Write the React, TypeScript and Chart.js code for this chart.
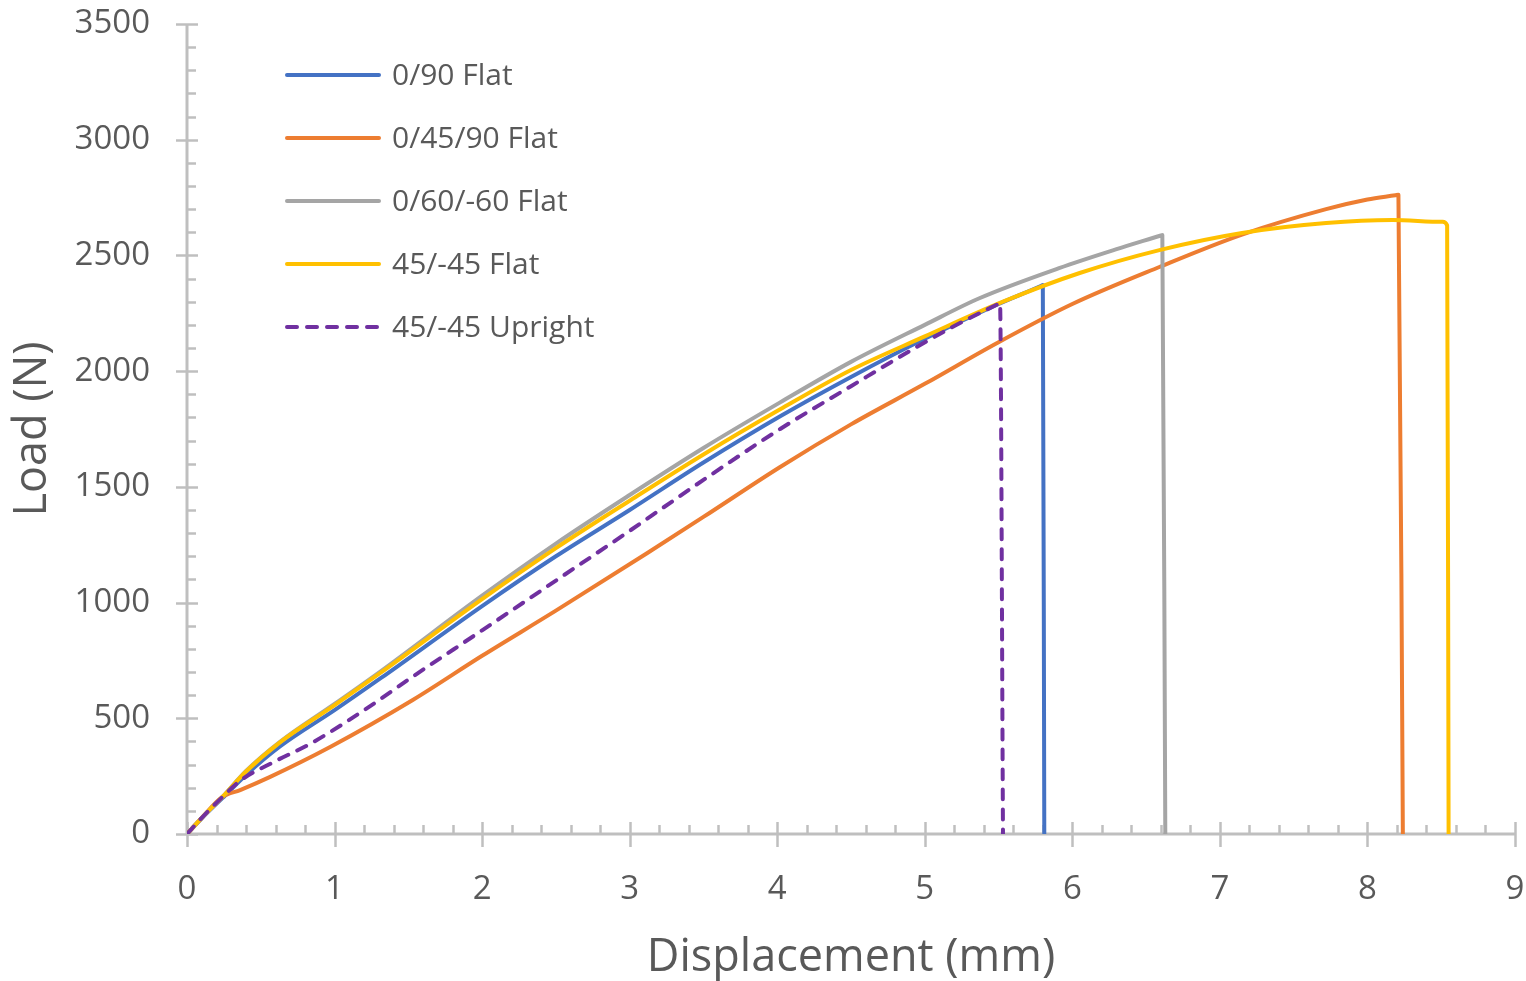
import React, { useEffect, useRef } from "react";
import { Chart, registerables } from "chart.js";

Chart.register(...registerables);

// ---------- data ----------
const seriesLabels = ["0/90 Flat", "0/45/90 Flat", "0/60/-60 Flat", "45/-45 Flat", "45/-45 Upright"];
const seriesColors = ["#4472C4", "#ED7D31", "#A5A5A5", "#FFC000", "#7030A0"];

const flat090X = [0, 0.1, 0.24, 0.4, 0.63, 1.0, 1.31, 2.0, 2.5, 3.0, 3.5, 4.02, 4.5, 5.0, 5.5, 5.79, 5.8, 5.81];
const flat090Y = [0, 68, 155, 255, 378, 535, 672, 985, 1200, 1400, 1605, 1805, 1975, 2140, 2290, 2369, 2372, 0];

const flat04590X = [0, 0.1, 0.24, 0.36, 0.56, 0.97, 1.53, 2.0, 2.5, 3.12, 3.5, 4.02, 4.5, 5.0, 5.5, 6.0, 6.59, 7.15, 7.72, 8.0, 8.19, 8.21, 8.24];
const flat04590Y = [0, 70, 160, 190, 246, 376, 579, 770, 965, 1214, 1370, 1586, 1770, 1945, 2125, 2290, 2450, 2590, 2700, 2742, 2760, 2762, 0];

const flat06060X = [0, 0.1, 0.24, 0.4, 0.63, 1.0, 1.31, 2.0, 2.5, 3.0, 3.5, 4.02, 4.5, 5.0, 5.37, 5.91, 6.3, 6.6, 6.61, 6.63];
const flat06060Y = [0, 70, 160, 272, 398, 562, 702, 1030, 1255, 1465, 1668, 1865, 2040, 2200, 2315, 2445, 2527, 2586, 2588, 0];

const flat4545X = [0, 0.1, 0.24, 0.4, 0.63, 1.0, 1.31, 2.0, 2.5, 3.0, 3.5, 4.02, 4.5, 5.0, 5.53, 6.05, 6.59, 7.15, 7.72, 8.17, 8.51, 8.54, 8.55];
const flat4545Y = [0, 70, 160, 270, 396, 557, 696, 1015, 1235, 1440, 1640, 1835, 2005, 2150, 2300, 2424, 2523, 2597, 2640, 2653, 2645, 2630, 0];

const upright4545X = [0, 0.1, 0.24, 0.36, 0.6, 0.85, 1.2, 1.53, 2.0, 2.5, 3.0, 3.5, 4.02, 4.5, 4.92, 5.2, 5.5, 5.51, 5.53];
const upright4545Y = [0, 70, 160, 230, 315, 395, 535, 680, 880, 1095, 1310, 1530, 1750, 1935, 2095, 2195, 2291, 2294, 0];

const xTickValues = [0, 1, 2, 3, 4, 5, 6, 7, 8, 9];
const yTickValues = [0, 500, 1000, 1500, 2000, 2500, 3000, 3500];
const xMinorStep = 0.2;
const yMinorStep = 100;

const xTitle = "Displacement (mm)";
const yTitle = "Load (N)";

// ---------- style ----------
const FONT = "'Open Sans', 'Noto Sans', sans-serif";
const TEXT = "#595959";
const AXIS = "#BFBFBF";

const toPoints = (xs: number[], ys: number[]) => xs.map((x, i) => ({ x, y: ys[i] }));

const axesPlugin = {
  id: "excelAxes",
  beforeDatasetsDraw(chart: any) {
    const { ctx, scales } = chart;
    const xs = scales.x;
    const ys = scales.y;
    const xMin = xTickValues[0];
    const xMax = xTickValues[xTickValues.length - 1];
    const yMin = yTickValues[0];
    const yMax = yTickValues[yTickValues.length - 1];
    const ox = xs.getPixelForValue(xMin);
    const oy = ys.getPixelForValue(yMin);
    ctx.save();
    ctx.strokeStyle = AXIS;
    ctx.lineCap = "butt";
    ctx.lineWidth = 3;
    ctx.beginPath();
    ctx.moveTo(ox, ys.getPixelForValue(yMax));
    ctx.lineTo(ox, oy);
    ctx.stroke();
    ctx.beginPath();
    ctx.moveTo(ox, oy);
    ctx.lineTo(xs.getPixelForValue(xMax), oy);
    ctx.stroke();
    ctx.lineWidth = 2.5;
    const nY = Math.round((yMax - yMin) / yMinorStep);
    for (let i = 0; i <= nY; i++) {
      const v = yMin + i * yMinorStep;
      const p = Math.round(ys.getPixelForValue(v)) + 0.5;
      const major = yTickValues.includes(v);
      ctx.beginPath();
      if (major) {
        ctx.moveTo(ox - 11, p);
        ctx.lineTo(ox + 11, p);
      } else {
        ctx.moveTo(ox, p);
        ctx.lineTo(ox + 9, p);
      }
      ctx.stroke();
    }
    const nX = Math.round((xMax - xMin) / xMinorStep);
    for (let i = 0; i <= nX; i++) {
      const v = xMin + i * xMinorStep;
      const p = Math.round(xs.getPixelForValue(v)) + 0.5;
      const major = Math.abs(v - Math.round(v)) < 1e-6;
      ctx.beginPath();
      if (major) {
        ctx.moveTo(p, oy - 12);
        ctx.lineTo(p, oy + 13);
      } else {
        ctx.moveTo(p, oy);
        ctx.lineTo(p, oy - 9);
      }
      ctx.stroke();
    }
    ctx.restore();
  },
};

const legendPlugin = {
  id: "insideLegend",
  afterDatasetsDraw(chart: any) {
    const { ctx } = chart;
    const startX = 287;
    const endX = 379;
    const textX = 392;
    const firstY = 75;
    const rowGap = 63;
    ctx.save();
    chart.data.datasets.forEach((ds: any, i: number) => {
      const y = firstY + i * rowGap;
      ctx.strokeStyle = ds.borderColor;
      ctx.lineWidth = ds.borderWidth;
      ctx.lineCap = "round";
      ctx.setLineDash(ds.borderDash || []);
      ctx.beginPath();
      ctx.moveTo(startX, y);
      ctx.lineTo(endX, y);
      ctx.stroke();
      ctx.setLineDash([]);
      ctx.fillStyle = TEXT;
      ctx.font = `30px ${FONT}`;
      ctx.textAlign = "left";
      ctx.textBaseline = "middle";
      ctx.fillText(ds.label, textX, y + 1);
    });
    ctx.restore();
  },
};

export default function App() {
  const canvasRef = useRef<HTMLCanvasElement | null>(null);

  useEffect(() => {
    const canvas = canvasRef.current;
    if (!canvas) return;
    const xs = [flat090X, flat04590X, flat06060X, flat4545X, upright4545X];
    const ysArr = [flat090Y, flat04590Y, flat06060Y, flat4545Y, upright4545Y];
    const orders = [5, 4, 3, 2, 1];
    const datasets = seriesLabels.map((label, i) => ({
      label,
      data: toPoints(xs[i], ysArr[i]),
      borderColor: seriesColors[i],
      backgroundColor: seriesColors[i],
      borderWidth: 4,
      borderDash: i === 4 ? [10, 10] : [],
      borderCapStyle: i === 4 ? "round" : "butt",
      borderJoinStyle: "round",
      pointRadius: 0,
      pointHoverRadius: 0,
      showLine: true,
      fill: false,
      cubicInterpolationMode: "monotone",
      order: orders[i],
    }));

    const chart = new Chart(canvas, {
      type: "scatter",
      data: { datasets } as any,
      plugins: [axesPlugin, legendPlugin],
      options: {
        animation: false,
        responsive: false,
        maintainAspectRatio: false,
        layout: { padding: { top: 24, right: 11, left: 0, bottom: 0 } },
        plugins: {
          legend: { display: false },
          tooltip: { enabled: false },
        },
        scales: {
          x: {
            type: "linear",
            min: xTickValues[0],
            max: xTickValues[xTickValues.length - 1],
            afterBuildTicks: (s: any) => {
              s.ticks = xTickValues.map((v) => ({ value: v }));
            },
            ticks: {
              font: { size: 33, family: FONT },
              color: TEXT,
              padding: 36,
              maxRotation: 0,
              callback: (v: any) => String(v),
            },
            grid: { display: false, drawTicks: false },
            border: { display: false },
            title: {
              display: true,
              text: xTitle,
              color: TEXT,
              font: { size: 45, family: FONT },
              padding: { top: 0, bottom: -4 },
            },
            afterFit: (s: any) => {
              s.height = 147;
              s.paddingLeft = 0;
              s.paddingRight = 0;
            },
          },
          y: {
            type: "linear",
            min: yTickValues[0],
            max: yTickValues[yTickValues.length - 1],
            afterBuildTicks: (s: any) => {
              s.ticks = yTickValues.map((v) => ({ value: v }));
            },
            ticks: {
              font: { size: 33, family: FONT },
              color: TEXT,
              padding: 37,
              callback: (v: any) => String(v),
            },
            grid: { display: false, drawTicks: false },
            border: { display: false },
            title: {
              display: true,
              text: yTitle,
              color: TEXT,
              font: { size: 45, family: FONT },
              padding: { top: 6, bottom: 0 },
            },
            afterFit: (s: any) => {
              s.width = 187;
              s.paddingTop = 0;
              s.paddingBottom = 0;
            },
          },
        },
      } as any,
    });
    return () => chart.destroy();
  }, []);

  return (
    <div style={{ position: "absolute", left: 0, top: 0, width: 1526, height: 981, background: "#fff" }}>
      <canvas ref={canvasRef} width={1526} height={981} style={{ display: "block" }} />
    </div>
  );
}
